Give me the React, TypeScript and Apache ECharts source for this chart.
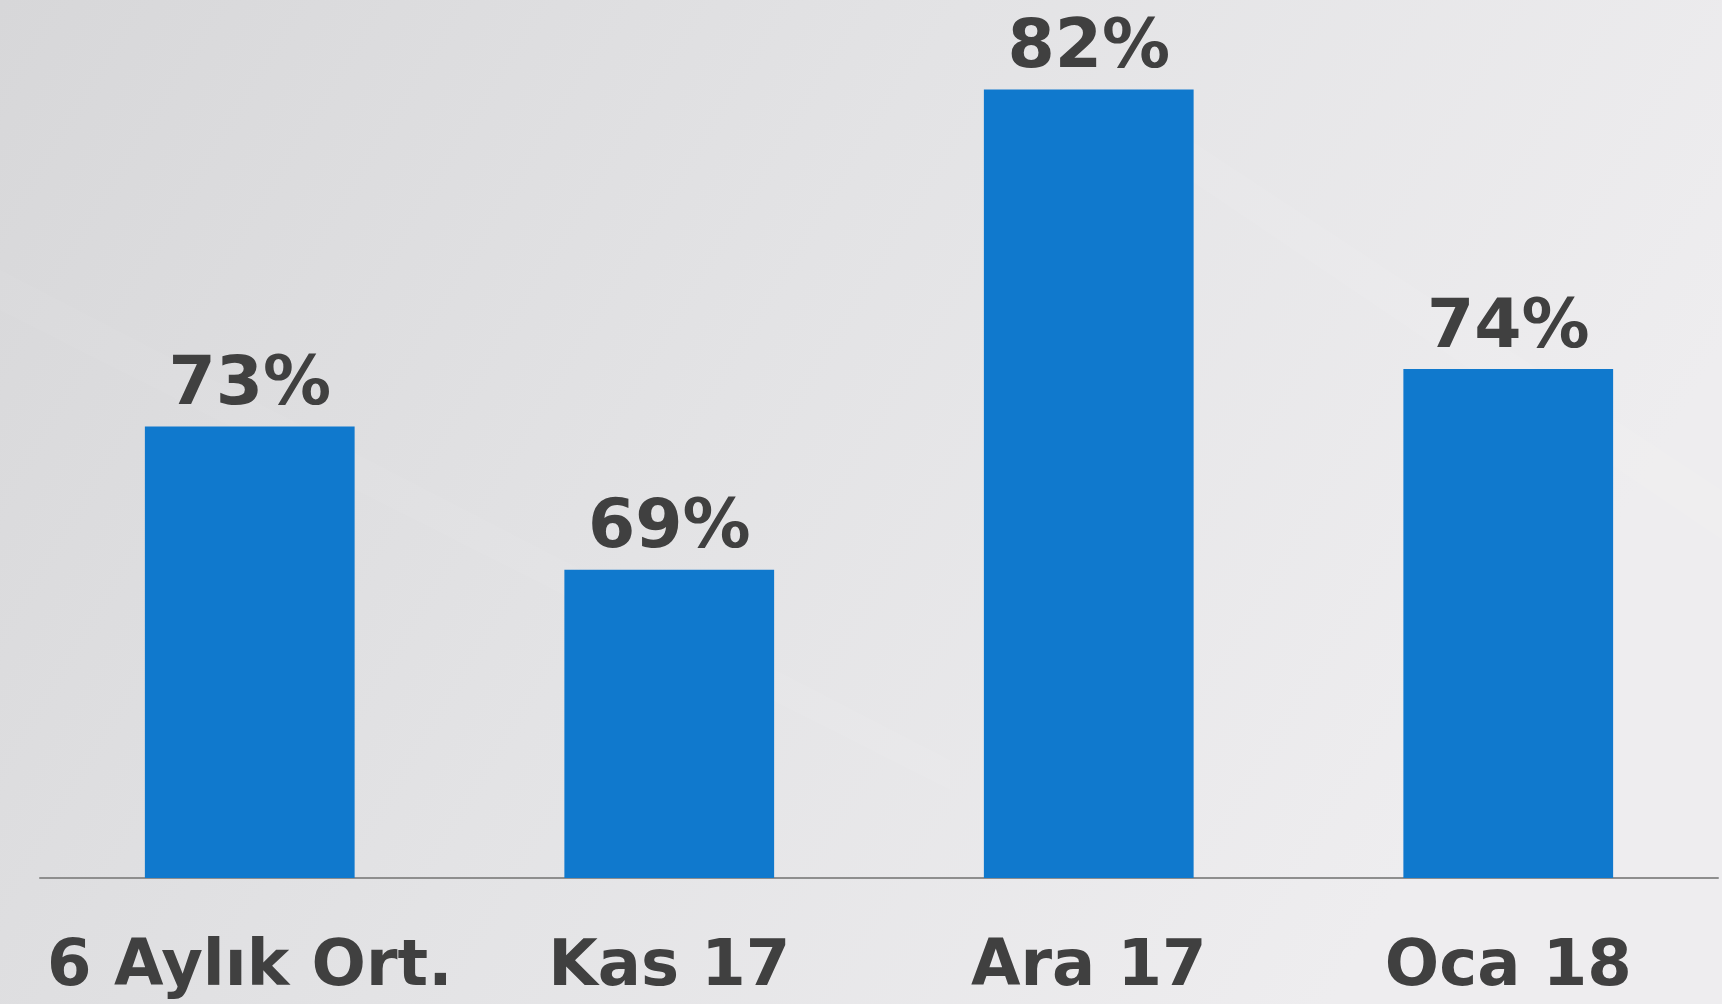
import React, { useEffect, useRef } from "react";
import * as echarts from "echarts";

const categories = ["6 Aylık Ort.", "Kas 17", "Ara 17", "Oca 18"];
const values = [72.6, 68.6, 82.0, 74.2];
const yMin = 60;
const yMax = 84.5;

export default function App() {
  const ref = useRef<HTMLDivElement>(null);
  useEffect(() => {
    document.body.style.margin = "0";
    const chart = echarts.init(ref.current!, null, { renderer: "svg" });
    chart.setOption({
      animation: false,
      backgroundColor: {
        type: "linear",
        x: 0,
        y: 0,
        x2: 1,
        y2: 0.35,
        colorStops: [
          { offset: 0, color: "#d7d7d9" },
          { offset: 0.5, color: "#e3e3e5" },
          { offset: 1, color: "#eeedef" },
        ],
      },
      graphic: [
        {
          type: "polygon",
          silent: true,
          z: -10,
          shape: { points: [[0, 270], [950, 760], [950, 790], [0, 310]] },
          style: { fill: "rgba(255,255,255,0.05)" },
        },
        {
          type: "polygon",
          silent: true,
          z: -10,
          shape: { points: [[1190, 140], [1722, 490], [1722, 540], [1190, 180]] },
          style: { fill: "rgba(255,255,255,0.06)" },
        },
      ],
      grid: { left: 40, right: 4, top: 0, bottom: 126, containLabel: false },
      xAxis: {
        type: "category",
        data: categories,
        axisLine: { show: true, lineStyle: { color: "#8e8e8e", width: 2 } },
        axisTick: { show: false },
        axisLabel: {
          interval: 0,
          margin: 53,
          color: "#404040",
          fontFamily: "DejaVu Sans",
          fontWeight: "bold",
          fontSize: 64,
        },
      },
      yAxis: {
        type: "value",
        min: yMin,
        max: yMax,
        show: false,
        splitLine: { show: false },
      },
      series: [
        {
          type: "bar",
          data: values,
          barWidth: "50%",
          itemStyle: { color: "#1079cd" },
          label: {
            show: true,
            position: "top",
            distance: 12,
            color: "#404040",
            fontFamily: "DejaVu Sans",
            fontWeight: "bold",
            fontSize: 68,
            formatter: (p: any) => Math.round(p.value) + "%",
          },
        },
      ],
    });
    return () => chart.dispose();
  }, []);
  return (
    <div
      ref={ref}
      style={{ position: "absolute", left: 0, top: 0, width: 1722, height: 1004 }}
    />
  );
}
